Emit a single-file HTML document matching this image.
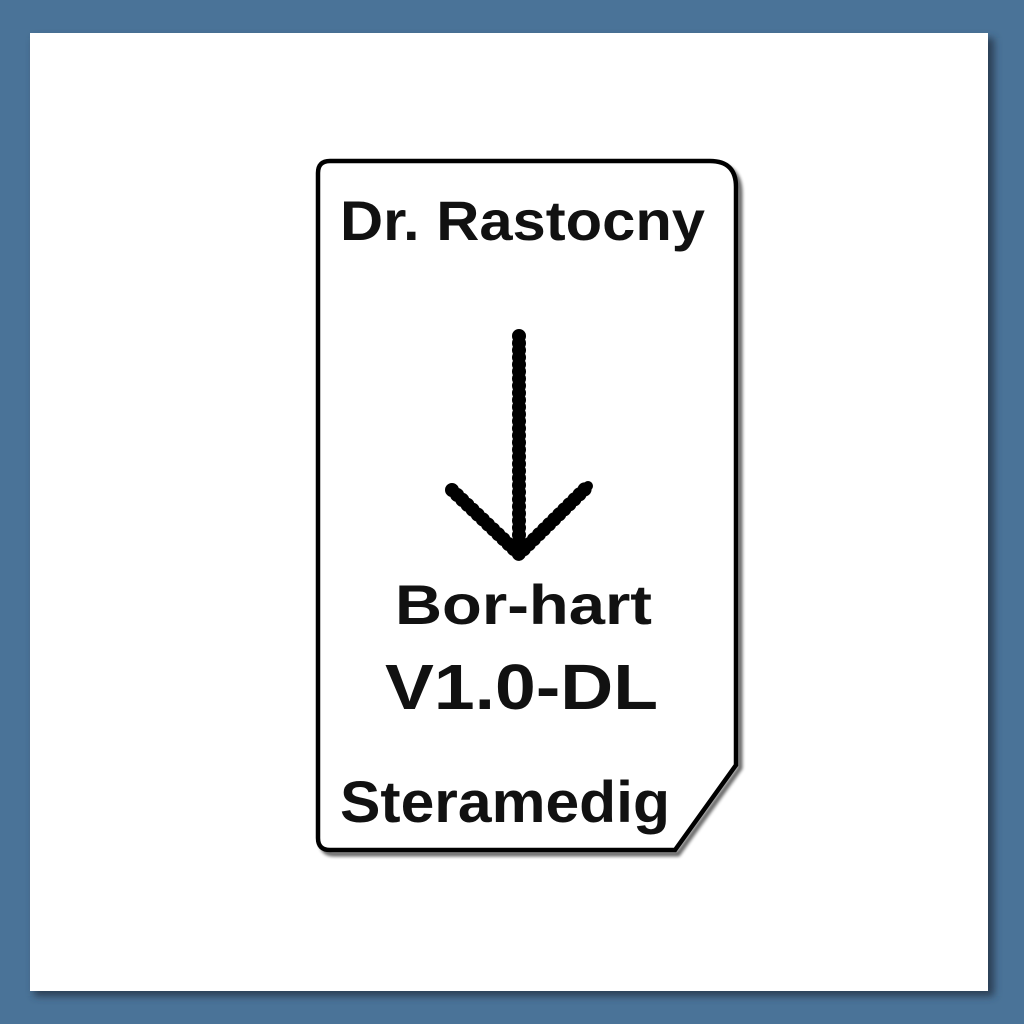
<!DOCTYPE html>
<html><head><style>
html,body{margin:0;padding:0;width:1024px;height:1024px;background:#4a7398;overflow:hidden}
</style></head><body>
<svg width="1024" height="1024" xmlns="http://www.w3.org/2000/svg" style="position:absolute;left:0;top:0">
<defs><filter id="s" x="-20%" y="-20%" width="140%" height="140%"><feGaussianBlur stdDeviation="4"/></filter>
<filter id="s2"><feGaussianBlur stdDeviation="1.5"/></filter></defs>
<rect x="34" y="38" width="960" height="958" fill="#2a3d52" filter="url(#s)"/>
<rect x="30" y="33" width="958" height="958" fill="#fff"/>
<path d="M322,165 H712 Q740,165 740,193 V768 L678,854 H334 Q322,854 322,842 V177 Q322,165 334,165 Z" fill="none" stroke="#000" stroke-width="5" opacity="0.6" filter="url(#s2)"/>
<path d="M330,161 H710 Q736,161 736,187 V765 L675,850 H330 Q318,850 318,838 V173 Q318,161 330,161 Z" fill="#fff" stroke="#000" stroke-width="4.5"/>
<g stroke="#000" stroke-width="14" stroke-linecap="round" stroke-dasharray="0.1 7" fill="none">
<line x1="519" y1="336" x2="519" y2="553"/>
<polyline points="452,490 519,554 588,486"/>
</g>
<g stroke="#000" stroke-width="10" stroke-linecap="round" fill="none">
<line x1="519" y1="336" x2="519" y2="553"/>
<polyline points="452,490 519,554 588,486"/>
</g>
<g font-family="Liberation Sans, Arial, sans-serif" font-weight="bold" fill="#111">
<text x="340" y="240" font-size="56" textLength="365" lengthAdjust="spacingAndGlyphs">Dr. Rastocny</text>
<text x="395" y="624" font-size="56" textLength="257" lengthAdjust="spacingAndGlyphs">Bor-hart</text>
<text x="385" y="709" font-size="64" textLength="273" lengthAdjust="spacingAndGlyphs">V1.0-DL</text>
<text x="340" y="822" font-size="58" textLength="330" lengthAdjust="spacingAndGlyphs">Steramedig</text>
</g>
</svg>
</body></html>
